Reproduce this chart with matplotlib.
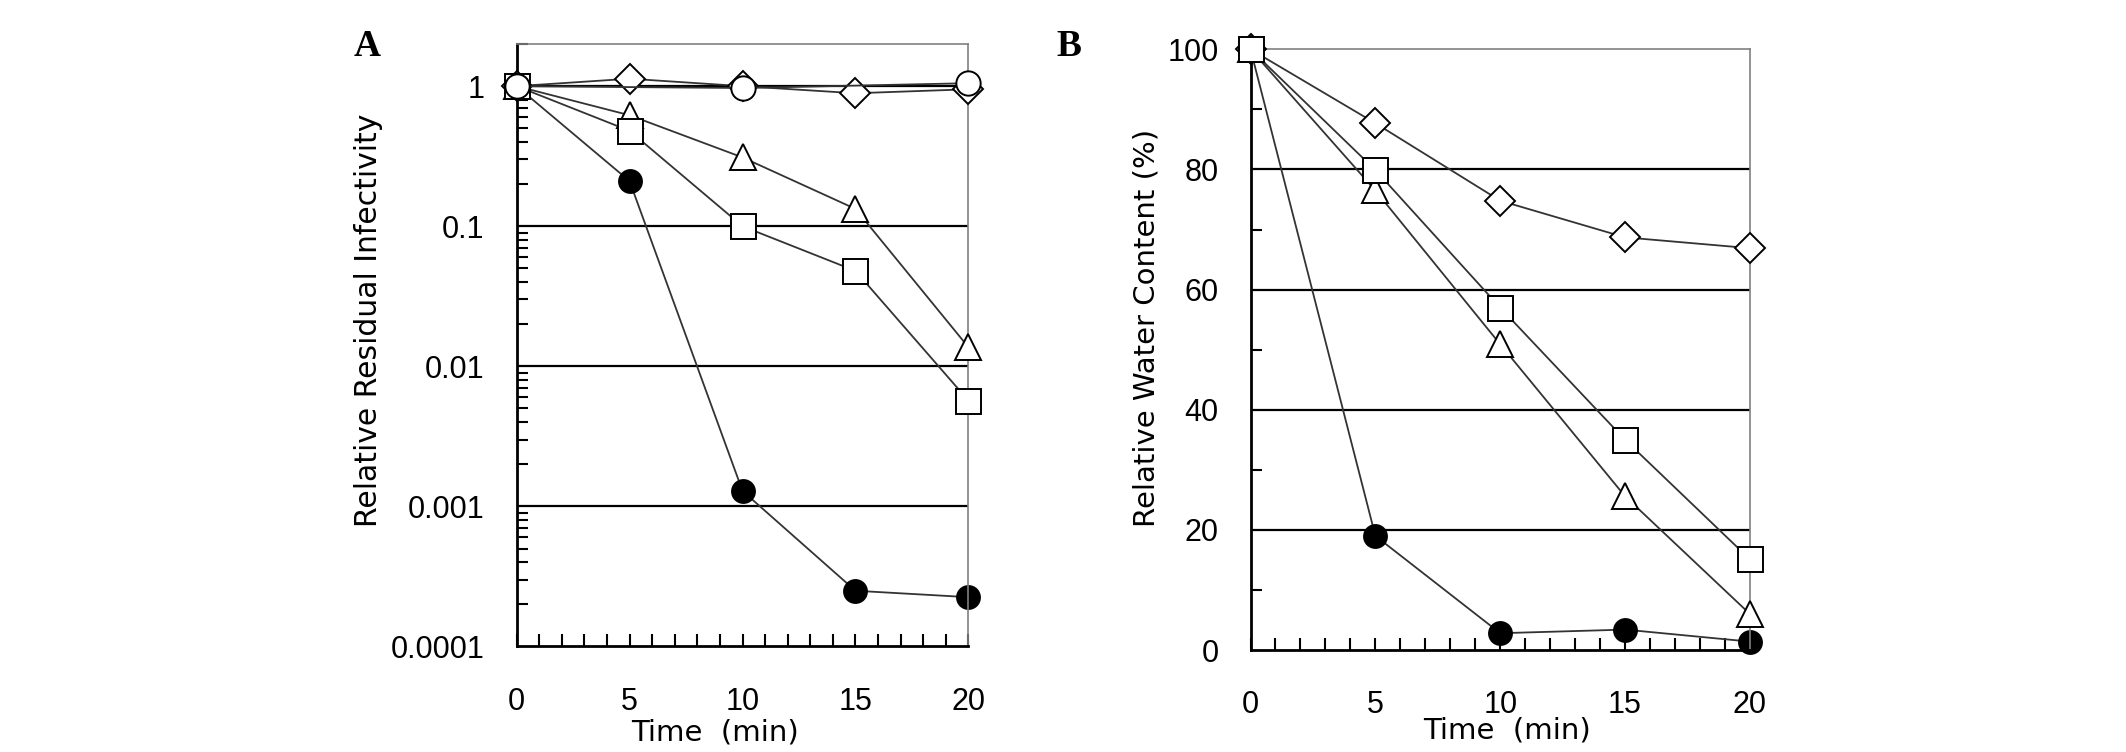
import numpy as np
import matplotlib
matplotlib.use("Agg")
import matplotlib.pyplot as plt
from matplotlib.ticker import FixedLocator, NullFormatter, LogLocator

plt.rcParams['font.family'] = ['Liberation Sans', 'DejaVu Sans']

# ---- data
time_min = [0, 5, 10, 15, 20]
time_sparse = [0, 10, 20]

# panel A: relative residual infectivity (log scale)
inf_diamond = [1.0, 1.13, 1.0, 0.89, 0.95]
inf_circle = [1.0, 0.97, 1.05]          # open circles only at 0, 10, 20
inf_triangle = [1.0, 0.62, 0.31, 0.133, 0.0137]
inf_square = [1.0, 0.48, 0.10, 0.048, 0.0057]
inf_filled = [1.0, 0.21, 0.00129, 0.00025, 0.000225]

# panel B: relative water content (%)
wat_diamond = [100, 87.7, 74.8, 68.7, 66.9]
wat_triangle = [100, 76.5, 50.9, 25.6, 6.0]
wat_square = [100, 79.9, 57.0, 35.0, 15.1]
wat_filled = [100, 19.0, 2.8, 3.4, 1.4]

x_ticks = [0, 5, 10, 15, 20]
a_ticks = [0.0001, 0.001, 0.01, 0.1, 1]
a_labels = ['0.0001', '0.001', '0.01', '0.1', '1']
b_ticks = [0, 20, 40, 60, 80, 100]

LINE = '#333333'
FS = 22          # tick labels
LFS = 21.5       # axis titles

fig = plt.figure(figsize=(21.26, 7.52), dpi=100)
axA = fig.add_axes([0.2430, 0.1403, 0.2125, 0.8012])
axB = fig.add_axes([0.5882, 0.1356, 0.2349, 0.7988])


def series(ax, x, y, marker, ms, filled=False, z=3):
    ax.plot(x, y, color=LINE, lw=1.3, marker=marker, ms=ms,
            mfc='black' if filled else 'white', mec='black', mew=1.4,
            zorder=z, clip_on=False)


def style(ax):
    for s in ('left', 'bottom'):
        ax.spines[s].set_linewidth(2.0)
        ax.spines[s].set_color('black')
    for s in ('top', 'right'):
        ax.spines[s].set_linewidth(1.2)
        ax.spines[s].set_color('#808080')
    ax.set_xlim(0, 20)
    ax.xaxis.set_major_locator(FixedLocator(x_ticks))
    ax.xaxis.set_minor_locator(FixedLocator(np.arange(0, 21, 1)))
    ax.tick_params(axis='x', which='both', direction='in', length=9,
                   width=1.5, labelsize=FS, pad=29)
    ax.tick_params(axis='y', which='major', length=0, labelsize=FS, pad=23)
    ax.tick_params(axis='y', which='minor', direction='in', length=8,
                   width=1.5)
    ax.set_xlabel('Time  (min)', fontsize=LFS - 0.5, family='DejaVu Sans')


# ---- panel A
series(axA, time_min, inf_filled, 'o', 16.5, filled=True, z=2.5)
series(axA, time_min, inf_diamond, 'D', 15, z=3)
series(axA, time_min, inf_triangle, '^', 19, z=4)
series(axA, time_min, inf_square, 's', 18, z=5)
series(axA, time_sparse, inf_circle, 'o', 17.5, z=6)
axA.set_yscale('log')
axA.set_ylim(0.0001, 2)
axA.yaxis.set_major_locator(FixedLocator(a_ticks))
axA.set_yticklabels(a_labels)
axA.yaxis.set_minor_locator(LogLocator(base=10, subs=np.arange(2, 10)))
axA.yaxis.set_minor_formatter(NullFormatter())
for v in [0.001, 0.01, 0.1, 1]:
    axA.axhline(v, color='black', lw=1.6, zorder=1)
style(axA)
axA.set_ylabel('Relative Residual Infectivity', fontsize=LFS,
               family='DejaVu Sans')
axA.yaxis.set_label_coords(-0.296, 0.542)
axA.xaxis.set_label_coords(0.439, -0.120)

# ---- panel B
series(axB, time_min, wat_filled, 'o', 16.5, filled=True, z=2.5)
series(axB, time_min, wat_diamond, 'D', 15, z=3)
series(axB, time_min, wat_triangle, '^', 19, z=4)
series(axB, time_min, wat_square, 's', 18, z=5)
axB.set_ylim(0, 100)
axB.yaxis.set_major_locator(FixedLocator(b_ticks))
axB.yaxis.set_minor_locator(FixedLocator([10, 30, 50, 70, 90]))
for v in [20, 40, 60, 80]:
    axB.axhline(v, color='black', lw=1.6, zorder=1)
style(axB)
axB.set_ylabel('Relative Water Content (%)', fontsize=LFS - 0.5,
               family='DejaVu Sans')
axB.yaxis.set_label_coords(-0.181, 0.537)
axB.xaxis.set_label_coords(0.514, -0.111)

# panel letters
fig.text(367 / 2126, 1 - 46 / 752, 'A', fontsize=27, fontweight='bold',
         family='Liberation Serif', ha='center', va='center')
fig.text(1069 / 2126, 1 - 46 / 752, 'B', fontsize=27, fontweight='bold',
         family='Liberation Serif', ha='center', va='center')

fig.savefig('out.png', dpi=100, facecolor='white')
